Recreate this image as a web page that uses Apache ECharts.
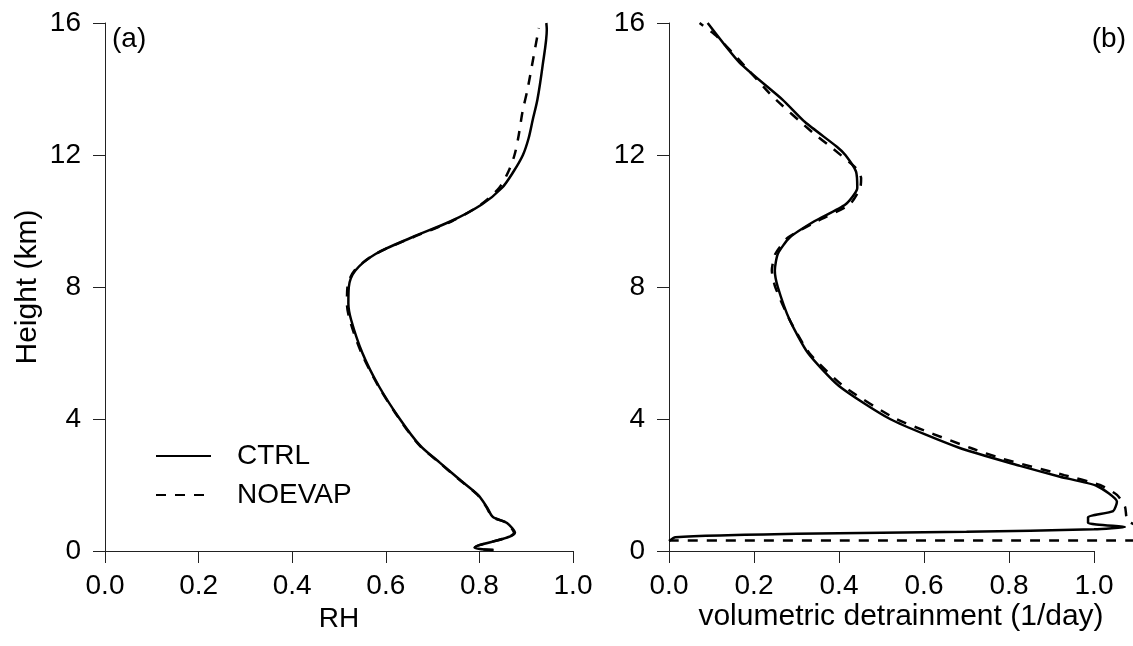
<!DOCTYPE html>
<html>
<head>
<meta charset="utf-8">
<script src="https://cdn.jsdelivr.net/npm/echarts@6/dist/echarts.min.js"></script>
<style>
  html, body { margin: 0; padding: 0; background: #fff; }
  #chart { width: 1133px; height: 646px; }
</style>
</head>
<body>
<div id="chart"></div>
<script>
// (a) relative humidity profiles
const rhCtrlHeight = [0.03, 0.1, 0.55, 0.85, 1.03, 1.33, 1.7, 2.15, 2.67, 3.2, 4, 5, 6, 7, 7.5, 8, 8.5, 9, 9.5, 10, 10.5, 11, 11.5, 12, 12.5, 13.07, 13.68, 14.7, 15.8, 16];
const rhCtrl = [0.83, 0.79, 0.876, 0.859, 0.829, 0.816, 0.797, 0.759, 0.716, 0.673, 0.63, 0.585, 0.55, 0.526, 0.52, 0.521, 0.535, 0.578, 0.655, 0.74, 0.805, 0.848, 0.873, 0.893, 0.905, 0.914, 0.924, 0.935, 0.944, 0.943];
const rhNoevapHeight = [0.03, 0.1, 0.55, 0.85, 1.03, 1.33, 1.7, 2.15, 2.67, 3.2, 4, 5, 6, 7, 7.5, 8, 8.5, 9, 9.5, 10, 10.5, 11, 11.5, 12, 12.6, 13.3, 14, 15, 15.85];
const rhNoevap = [0.83, 0.79, 0.874, 0.858, 0.828, 0.815, 0.796, 0.758, 0.715, 0.672, 0.629, 0.584, 0.548, 0.523, 0.517, 0.518, 0.533, 0.578, 0.657, 0.742, 0.803, 0.842, 0.862, 0.875, 0.884, 0.892, 0.903, 0.916, 0.927];

// (b) volumetric detrainment profiles
const detCtrlHeight = [0.3, 0.42, 0.52, 0.58, 0.66, 0.73, 0.85, 1.03, 1.21, 1.49, 1.97, 2.25, 2.58, 3.12, 4, 5, 6, 7, 8, 8.5, 9, 9.5, 10, 10.5, 11, 11.5, 12, 12.25, 13, 13.68, 14.8, 16];
const detCtrl = [0, 0.015, 0.3, 0.7, 1.0, 1.073, 0.986, 0.986, 1.045, 1.054, 1.007, 0.92, 0.826, 0.684, 0.52, 0.4, 0.327, 0.284, 0.256, 0.249, 0.256, 0.284, 0.343, 0.415, 0.443, 0.44, 0.415, 0.395, 0.32, 0.267, 0.166, 0.091];
const detNoevapHeight = [0.32, 0.32, 0.9, 1.34, 1.7, 2.0, 2.3, 2.79, 3.12, 4, 5, 6, 7, 8, 8.5, 9, 9.5, 10, 10.5, 11, 11.3, 11.6, 12.2, 12.68, 13.77, 14.7, 15.6, 16];
const detNoevap = [0, 1.2, 1.08, 1.073, 1.054, 1.014, 0.93, 0.786, 0.71, 0.535, 0.41, 0.33, 0.284, 0.25, 0.242, 0.25, 0.28, 0.35, 0.425, 0.45, 0.452, 0.44, 0.385, 0.338, 0.244, 0.178, 0.112, 0.072];

function pairs(xs, ys) {
  return xs.map(function (x, i) { return [x, ys[i]]; });
}

const FONT = 'Liberation Sans, Arial, sans-serif';
const FS = 28;
const NAME_FS = 30;
const axisColor = '#222';

function xAxisShown(gridIndex, name) {
  return {
    type: 'value', gridIndex: gridIndex, min: 0, max: 1, interval: 0.2,
    name: name, nameLocation: 'middle', nameGap: 51,
    nameTextStyle: { fontFamily: FONT, fontSize: FS, color: '#000' },
    axisLine: { show: true, lineStyle: { color: axisColor, width: 1 } },
    axisTick: { show: true, inside: false, length: 12, lineStyle: { color: axisColor } },
    axisLabel: { fontFamily: FONT, fontSize: FS, color: '#000', margin: 21,
      formatter: function (v) { return v.toFixed(1); } },
    splitLine: { show: false }
  };
}

function yAxisShown(gridIndex, name) {
  return {
    type: 'value', gridIndex: gridIndex, min: 0, max: 16, interval: 4,
    name: name, nameLocation: 'middle', nameGap: 62, nameRotate: 90,
    nameTextStyle: { fontFamily: FONT, fontSize: NAME_FS, color: '#000' },
    axisLine: { show: true, lineStyle: { color: axisColor, width: 1 } },
    axisTick: { show: true, inside: false, length: 12, lineStyle: { color: axisColor } },
    axisLabel: { fontFamily: FONT, fontSize: FS, color: '#000', margin: 24 },
    splitLine: { show: false }
  };
}

const solid = { color: '#000', width: 2.5, type: 'solid' };
const dashed = { color: '#000', width: 2.5, type: [10, 9] };

const option = {
  animation: false,
  backgroundColor: '#fff',
  title: [
    { text: '(a)', left: 107, top: 20, textStyle: { fontFamily: FONT, fontSize: FS, fontWeight: 'normal', color: '#000' } },
    { text: '(b)', right: 2, top: 20, textStyle: { fontFamily: FONT, fontSize: FS, fontWeight: 'normal', color: '#000' } }
  ],
  legend: {
    orient: 'vertical', left: 150, top: 437,
    itemWidth: 55, itemHeight: 20, itemGap: 11,
    data: ['CTRL', 'NOEVAP'],
    itemStyle: { opacity: 0 },
    textStyle: { fontFamily: FONT, fontSize: FS, color: '#000', padding: [0, 0, 0, 21] }
  },
  grid: [
    { left: 105, top: 23, width: 468, height: 528 },
    { left: 669, top: 23, width: 425, height: 528 },
    { left: 669, top: 23, width: 464, height: 528 }
  ],
  xAxis: [
    xAxisShown(0, 'RH'),
    xAxisShown(1, ''),
    {
      type: 'value', gridIndex: 2, min: 0, max: 464 / 425,
      name: 'volumetric detrainment (1/day)', nameLocation: 'middle', nameGap: 51,
      nameTextStyle: { fontFamily: FONT, fontSize: NAME_FS, color: '#000' },
      axisLine: { show: false }, axisTick: { show: false }, axisLabel: { show: false },
      splitLine: { show: false }
    }
  ],
  yAxis: [
    yAxisShown(0, 'Height (km)'),
    yAxisShown(1, ''),
    {
      type: 'value', gridIndex: 2, min: 0, max: 16,
      axisLine: { show: false }, axisTick: { show: false }, axisLabel: { show: false },
      splitLine: { show: false }
    }
  ],
  series: [
    { name: 'CTRL', type: 'line', xAxisIndex: 0, yAxisIndex: 0, symbol: 'none',
      smooth: 0.3, lineStyle: solid, itemStyle: { color: '#000' },
      data: pairs(rhCtrl, rhCtrlHeight) },
    { name: 'NOEVAP', type: 'line', xAxisIndex: 0, yAxisIndex: 0, symbol: 'none',
      smooth: 0.3, lineStyle: dashed, itemStyle: { color: '#000' },
      data: pairs(rhNoevap, rhNoevapHeight) },
    { name: 'CTRL', type: 'line', xAxisIndex: 2, yAxisIndex: 2, symbol: 'none',
      smooth: 0.2, clip: true, lineStyle: solid, itemStyle: { color: '#000' },
      data: pairs(detCtrl, detCtrlHeight) },
    { name: 'NOEVAP', type: 'line', xAxisIndex: 2, yAxisIndex: 2, symbol: 'none',
      smooth: 0.2, clip: true, lineStyle: dashed, itemStyle: { color: '#000' },
      data: pairs(detNoevap, detNoevapHeight) }
  ]
};

const chart = echarts.init(document.getElementById('chart'), null, { renderer: 'canvas' });
chart.setOption(option);
</script>
</body>
</html>
